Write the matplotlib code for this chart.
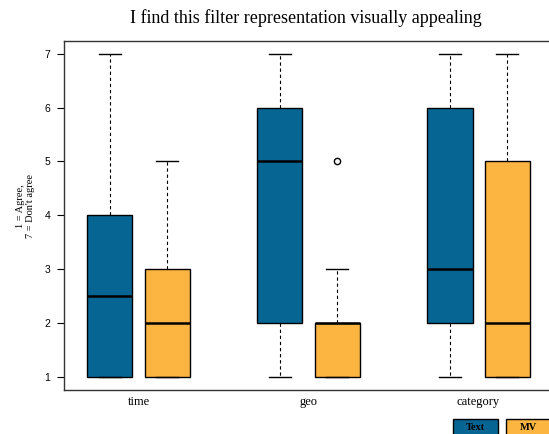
import matplotlib
matplotlib.use("Agg")
import matplotlib.pyplot as plt
from matplotlib.patches import Rectangle

# данные: оценки по шкале 1..7 (квартили)
categories = ["time", "geo", "category"]
series = ["Text", "MV"]
colors = ["#066592", "#FBB540"]

# whislo, q1, med, q3, whishi
text_stats = [[1, 1, 2.5, 4, 7], [1, 2, 5, 6, 7], [1, 2, 3, 6, 7]]
mv_stats = [[1, 1, 2, 3, 5], [1, 1, 2, 2, 3], [1, 1, 2, 5, 7]]
text_fliers = [[], [], []]
mv_fliers = [[], [5], []]

fig = plt.figure(figsize=(5.49, 4.34), dpi=100)
ax = fig.add_axes([0.1166, 0.1025, 0.8907, 0.803])

offset = 0.168
width = 0.265


def make_stats(stats, fliers):
    out = []
    for (lo, q1, med, q3, hi), fl in zip(stats, fliers):
        out.append(dict(whislo=lo, q1=q1, med=med, q3=q3, whishi=hi, fliers=fl))
    return out


for i, (stats, fliers) in enumerate([(text_stats, text_fliers), (mv_stats, mv_fliers)]):
    pos = [k + 1 + (offset if i else -offset) for k in range(len(categories))]
    ax.bxp(make_stats(stats, fliers), positions=pos, widths=width,
           capwidths=width * 0.5, patch_artist=True, manage_ticks=False,
           boxprops=dict(facecolor=colors[i], edgecolor="black", linewidth=1.0),
           medianprops=dict(color="black", linewidth=1.8, solid_capstyle="butt"),
           whiskerprops=dict(color="black", linewidth=0.8, linestyle=(0, (3, 2.5))),
           capprops=dict(color="black", linewidth=1.0),
           flierprops=dict(marker="o", markersize=4.5, markerfacecolor="none",
                           markeredgecolor="black", markeredgewidth=1.0))

ax.set_xlim(0.562, 3.438)
ax.set_ylim(0.76, 7.24)
ax.set_yticks([1, 2, 3, 4, 5, 6, 7])
ax.set_xticks([1, 2, 3])
ax.set_xticklabels(categories, family="Liberation Serif", fontsize=9)
ax.tick_params(axis="x", length=0, pad=5)
ax.tick_params(axis="y", length=5, width=0.8, pad=5, labelsize=7.5)
for lab in ax.get_yticklabels():
    lab.set_family("Liberation Sans")
for s in ax.spines.values():
    s.set_linewidth(1.0)
    s.set_color("#333333")

# подпись оси y
fig.text(25.5 / 549, 1 - 206 / 434, "1 = Agree,\n7 = Don't agree", rotation=90,
         ha="center", va="center", multialignment="center",
         family="Liberation Serif", fontsize=7.5, linespacing=1.25)
fig.text(0.558, 0.958, "I find this filter representation visually appealing",
         ha="center", va="center", family="Liberation Serif", fontsize=13)

# легенда внизу справа
for x0, name, c in [(452.5, series[0], colors[0]), (506, series[1], colors[1])]:
    fig.patches.append(Rectangle((x0 / 549, -0.01), 45 / 549, 19.5 / 434,
                                 transform=fig.transFigure, facecolor=c,
                                 edgecolor="black", linewidth=1.0))
    fig.text((x0 + 22.5) / 549, 7 / 434, name, ha="center", va="center",
             family="Liberation Serif", fontsize=7.5, fontweight="bold",
             color="black")

fig.savefig("out.png", dpi=100)
